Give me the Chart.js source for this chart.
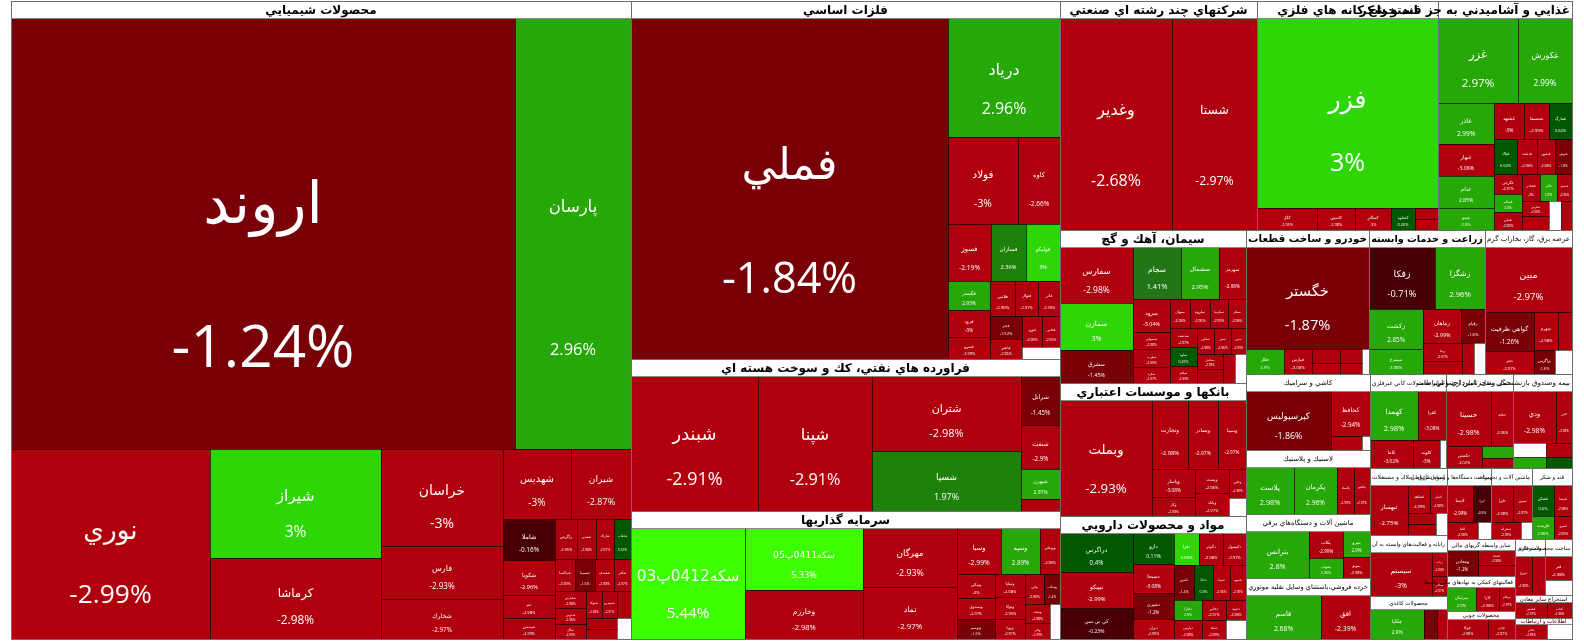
<!DOCTYPE html>
<html>
<head>
<meta charset="utf-8">
<script src="https://cdn.jsdelivr.net/npm/chart.js@4.4.1/dist/chart.umd.min.js"></script>
<style>
html, body { margin: 0; padding: 0; background: #fff; }
#wrap { width: 1584px; height: 642px; }
</style>
</head>
<body>
<div id="wrap"><canvas id="tree" width="1584" height="642"></canvas></div>
<script>
// گروه ها (صنایع) و وزن هر گروه
const sectorNames = [
    'محصولات شيميايي', 'فلزات اساسي', 'فراورده هاي نفتي، كك و سوخت هسته اي', 'سرمايه گذاريها',
    'شركتهاي چند رشته اي صنعتي', 'استخراج كانه هاي فلزي', 'غذايي و آشاميدني به جز قند و شكر',
    'سيمان، آهك و گچ', 'بانكها و موسسات اعتباري', 'مواد و محصولات دارويي', 'خودرو و ساخت قطعات',
    'زراعت و خدمات وابسته', 'عرضه برق، گاز، بخاراب گرم', 'كاشي و سراميك', 'لاستيك و پلاستيك',
    'ماشين آلات و دستگاه‌هاي برقي', 'خرده فروشي،باستثناي وسايل نقليه موتوري', 'ساير محصولات كاني غيرفلزي',
    'حمل ونقل، انبارداري و ارتباطات', 'بيمه وصندوق بازنشستگي به جزتامين اجتماعي', 'انبوه سازي، املاك و مستغلات',
    'رايانه و فعاليت‌هاي وابسته به آن', 'محصولات كاغذي', 'ساخت دستگاه‌ها و وسايل ارتباطي', 'ماشين آلات و تجهيزات',
    'قند و شكر', 'ساير واسطه گريهاي مالي', 'فعاليتهاي كمكي به نهادهاي مالي واسط', 'محصولات چوبي',
    'منسوجات', 'ساخت محصولات فلزي', 'استخراج ساير معادن', 'اطلاعات و ارتباطات'
];
const sectorValues = [
    394, 153, 65, 54.5, 44.9, 41.2, 30.7, 28.3, 24.6, 22.8, 17.6, 16.6, 12.4,
    9.35, 7.9, 7.85, 7.5, 7.07, 6.32, 5.49, 5.17, 4.71, 3.27, 3.08, 2.94, 2.8,
    2.5, 2.3, 1.9, 1.7, 1.5, 1.3, 1.2
];

// نمادها، وزن و درصد تغییر (هر سطر یک گروه)
const stockNames = [
    ['اروند','پارسان','نوري','شيراز','كرماشا','خراسان','فارس','شخارك','شهديس','شيران','شاملا','شكويا','جم','زاگرس','شپديس','شغدير','شاراك','شلعاب','شپاكسا','شسينا','شصدف','شكلر','شفارس','شدوص','شگل','شتوكا','شيميدرو','شبصير','شجم','شاوان','شفاراب'],
    ['فملي','درياد','فولاد','كاوه','فسوز','فسازان','فوليكو','فگستر','فرود','فسرو','فلامي','فنوال','فاذر','فجر','فباهنر','فنورد','فخاس','فمراد'],
    ['شبندر','شپنا','شتران','شسپا','شرانل','شنفت','شبهرن','شپاس'],
    ['سكه0412پ03','سكه0411پ05','وخارزم','مهرگان','تماد','وسبا','وسپه','وبوعلي','ونيكي','وصندوق','وساپا','وتوكا','وپويا','واتي','وسكاب','ونفت','والبر','وتوسم','وسمگ'],
    ['وغدير','شستا'],
    ['فزر','كگل','كاسپين','كمنگنز','كساوه','كدما','كروي'],
    ['غزر','غكورش','غاذر','غدام','غبهار','غپينو','غشهد','غمارگ','غشصفا','غپاك','غدشت','غبشهر','غنوش','غگرجي','غسالم','غنيلي','غشاذر','غالبر','غصينو','غفارس','غپآذر','غچين','غمهرا'],
    ['سفارس','سمازن','سشرق','سجام','سشمال','سهرمز','سرود','سصوفي','سغرب','سكرد','سبهان','ساروم','سكرما','سفار','سدشت','ساوه','سيلام','سقاين','سنير','سدور','سخاش','سبجنو','ستران','سپيدار'],
    ['وبملت','وتجارت','وبصادر','وسينا','وپاسار','وكار','وپست','وبانك','وخاور','وسالت'],
    ['دراگرس','كي بي سي','تيپيكو','دارو','دسبحا','دفرا','دشيري','ديران','دكوثر','دكپسول','دامين','ددانا','دفارا','دسينا','داسوه','دپارس','دجابر','دتماد','دعبيد','دالبر'],
    ['خگستر','خكار','خپارس','خودرو','خساپا','خمحور','خريخت','خزاميا'],
    ['زفكا','زشگزا','زكشت','سيمرغ','زماهان','زقيام','زبينا','زملارد','زگلدشت','زپارس'],
    ['مبين','گواهي ظرفيت','بختر','بجهرم','بكهنوج','بزاگرس','بمپنا'],
    ['كپرسپوليس','كحافظ','كسعدي','كسرام'],
    ['پلاست','پكرمان','پلاسك','پاكشو'],
    ['بترانس','بكاب','بشهاب','بنيرو','بموتو'],
    ['قاسم','افق'],
    ['كهمدا','كفرا','كاما','كلوند','كگاز'],
    ['حسينا','حتايد','حكشتي','حپترو','حآسا'],
    ['ودي','البرز','وبيمه','كوثر','بپاس','بيما'],
    ['ثبهساز','ثشاهد','ثامان','ثعمرا','ثنوسا','ثاصفا'],
    ['سيستم','رتاپ','مفاخر'],
    ['چكاپا','چكارن','چفيبر'],
    ['لابسا','ليرا','لكما','لخزر'],
    ['تايرا','تپمپي','تمحركه','شيپا'],
    ['قشكر','قنيشا','قلرست','قمرو'],
    ['ومعادن','اعتماد','ولصنم'],
    ['مبرسان','كارا','مرقام'],
    ['چوكا','چدن'],
    ['نبروج','نگين'],
    ['فنر','فروس'],
    ['كطبس','كباده'],
    ['اخابر','همراه']
];
const stockValues = [
    [214856,49648,37400,18404,13760,11800,6490,4800,4700,4200,2115,1786,1200,864,1053,748,700,680,660,640,600,560,520,480,450,420,400,380,350,320,300],
    [105456,12980,5916,3654,2408,1950,1900,1170,1100,900,850,800,750,700,650,600,550,450],
    [16236,14442,10605,8526,1785,1620,1107,459],
    [12397,7169,5635,5400,4815,1944,1739,900,880,800,700,650,600,550,500,450,400,720,350],
    [23421,17935],
    [34020,1320,814,800,528,242,242],
    [6880,4644,2322,1782,1836,1296,1026,810,900,800,700,650,600,550,520,500,480,450,420,400,380,350,330],
    [4030,3315,2410,2401,1960,1400,1176,650,620,600,580,560,540,520,500,480,460,440,420,400,380,360,340,320],
    [9964,2346,1938,1845,1170,765,752,738,468,300],
    [2806,2208,2562,1242,1150,782,1037,800,760,720,680,650,520,600,560,520,480,440,400,380],
    [12915,960,720,400,340,300,250,200],
    [4158,3150,2220,1369,1320,870,703,500,400,350],
    [5418,1813,1078,888,500,481,400],
    [5100,1786,442,120],
    [2240,1974,799,768],
    [2926,910,700,693,552],
    [3182,2107],
    [2304,1296,1161,729,140],
    [2484,1188,777,336,315],
    [2360,870,375,375,300,500],
    [1887,588,476,299,299,250],
    [2700,350,300],
    [1638,400,300],
    [900,600,500,200],
    [800,700,500,200],
    [800,700,600,500],
    [900,600,500],
    [900,700,500],
    [600,400],
    [500,400],
    [500,300],
    [400,300],
    [400,300]
];
const stockChanges = [
    [-1.24,2.96,-2.99,3,-2.98,-3,-2.93,-2.97,-3,-2.87,-0.16,-2.96,-2.98,-2.95,-2.99,-2.98,-2.97,0.52,-2.99,-1.5,-2.99,-2.97,-2.98,-2.96,-2.99,-2.98,-2.97,-2.99,-2.98,-2.96,0],
    [-1.84,2.96,-3,-2.66,-2.19,2.36,3,2.93,-3,-2.99,-2.98,-2.97,-2.99,-1.52,-2.96,-2.98,-2.95,0],
    [-2.91,-2.91,-2.98,1.97,-1.45,-2.9,2.97,-2.99],
    [5.44,5.33,-2.98,-2.93,-2.97,-2.99,2.89,-2.98,-3,-2.97,-2.98,-2.99,-2.97,-2.96,-1.4,-2.98,-2.99,-1.5,0],
    [-2.68,-2.97],
    [3,-2.95,-2.98,-3,0.26,-3,-2.9],
    [2.97,2.99,2.99,2.85,-3.08,2.9,-3,0.62,-2.99,0.52,-2.98,-2.98,-1.8,-2.97,2.9,-2.99,-3,2.9,-2.96,-2.98,-2.99,0,-2.97],
    [-2.98,3,-1.45,1.41,2.95,-2.98,-3.04,-2.98,-2.99,-2.97,-2.98,-2.96,-2.99,-2.98,-2.97,0.45,-2.99,-2.98,-2.96,-2.99,-2.98,-2.97,-2.99,0],
    [-2.93,-2.98,-2.97,-2.97,-3.08,-2.99,-2.96,-2.97,-2.98,0],
    [0.4,-0.23,-2.99,0.11,-3.08,3.08,-1.2,-2.99,-2.98,-2.97,-1.4,0.3,2.9,-2.96,-2.99,-2.98,-2.97,-2.99,-2.98,0],
    [-1.87,2.9,-3.08,-2.97,-2.98,-2.96,-2.99,0],
    [-0.71,2.96,2.85,2.98,-2.99,-1.6,-2.97,-2.98,-2.96,0],
    [-2.97,-1.26,-2.97,-2.98,-2.99,-1.6,0],
    [-1.86,-2.94,-2.98,0],
    [2.98,2.96,-2.99,-2.97],
    [2.8,-2.99,2.96,2.9,-2.98],
    [2.68,-2.39],
    [2.98,-3.08,-3.02,-3,0],
    [-2.98,-2.96,-3.02,2.9,-2.98],
    [-2.98,-2.98,2.9,-2.97,0.4,0],
    [-2.75,-2.99,-2.98,-2.97,-2.96,0],
    [-3,-2.98,-2.97],
    [2.9,-1.5,-2.9],
    [-2.99,-0.5,-2.98,0],
    [-2.98,-2.97,-2.99,0],
    [0.6,-2.98,2.96,-2.99],
    [-1.2,-2.98,-2.97],
    [2.9,-2.98,-2.97],
    [-2.98,-2.97],
    [-2.98,-2.99],
    [-2.98,0],
    [-2.97,-2.98],
    [-2.98,0]
];

// محدوده نقشه روی محورها
const frame = { x0: 11, y0: 1, x1: 1572, y1: 639 };
const phi = (1 + Math.sqrt(5)) / 2;

function tileColor(c) {
    if (!c) return '#ffffff';
    if (c >= 5) return 'rgb(62,255,0)';
    if (c >= 3) return 'rgb(46,214,6)';
    if (c >= 2.5) return 'rgb(38,168,8)';
    if (c >= 1.5) return 'rgb(30,130,10)';
    if (c >= 1) return 'rgb(34,118,24)';
    if (c > 0) return 'rgb(0,88,0)';
    if (c <= -2) return 'rgb(176,0,14)';
    if (c <= -1) return 'rgb(122,0,8)';
    return 'rgb(72,0,6)';
}

// squarified treemap (same rule as d3 with golden ratio)
function squarify(nodes, x0, y0, x1, y1) {
    let value = nodes.reduce((s, n) => s + n.value, 0);
    let i0 = 0, i1 = 0;
    const n = nodes.length;
    while (i0 < n) {
        const dx = x1 - x0, dy = y1 - y0;
        let sumValue = nodes[i1++].value;
        let minValue = sumValue, maxValue = sumValue;
        const alpha = Math.max(dy / dx, dx / dy) / (value * phi);
        let beta = sumValue * sumValue * alpha;
        let minRatio = Math.max(maxValue / beta, beta / minValue);
        for (; i1 < n; ++i1) {
            const nv = nodes[i1].value;
            sumValue += nv;
            if (nv < minValue) minValue = nv;
            if (nv > maxValue) maxValue = nv;
            beta = sumValue * sumValue * alpha;
            const newRatio = Math.max(maxValue / beta, beta / minValue);
            if (newRatio > minRatio) { sumValue -= nv; break; }
            minRatio = newRatio;
        }
        const row = nodes.slice(i0, i1);
        if (dx < dy) {
            const yb = i1 >= n ? y1 : y0 + dy * sumValue / value;
            let x = x0;
            row.forEach(nd => {
                const w = dx * nd.value / sumValue;
                nd.x0 = x; nd.x1 = x + w; nd.y0 = y0; nd.y1 = yb;
                x += w;
            });
            y0 = yb;
        } else {
            const xb = i1 >= n ? x1 : x0 + dx * sumValue / value;
            let y = y0;
            row.forEach(nd => {
                const h = dy * nd.value / sumValue;
                nd.y0 = y; nd.y1 = y + h; nd.x0 = x0; nd.x1 = xb;
                y += h;
            });
            x0 = xb;
        }
        value -= sumValue;
        i0 = i1;
    }
}

function buildLayout() {
    const sectors = sectorNames.map((name, i) => ({ name: name, value: sectorValues[i], index: i }))
        .sort((a, b) => b.value - a.value);
    squarify(sectors, frame.x0, frame.y0, frame.x1, frame.y1);
    sectors.forEach(s => {
        s.head = Math.min(17, (s.y1 - s.y0) * 0.3);
        s.children = stockNames[s.index].map((name, j) => ({
            name: name,
            value: stockValues[s.index][j],
            change: stockChanges[s.index][j]
        })).sort((a, b) => b.value - a.value);
        squarify(s.children, s.x0, s.y0 + s.head, s.x1, s.y1);
    });
    return sectors;
}

const LABEL_FONT = '"DejaVu Sans", sans-serif';
const PCT_FONT = '"Open Sans", "DejaVu Sans", sans-serif';

function drawLabel(ctx, t, x, y, w, h) {
    if (!t.change || w < 10 || h < 9) return;
    const pct = t.change + '%';
    let f = Math.min(w, h) / 7.5 + 1;
    ctx.font = f + 'px ' + LABEL_FONT;
    const nw = ctx.measureText(t.name).width;
    ctx.font = f + 'px ' + PCT_FONT;
    const pw = ctx.measureText(pct).width;
    const mw = Math.max(nw, pw);
    if (mw > w * 0.9) f = f * w * 0.9 / mw;
    if (f < 3) return;
    ctx.save();
    ctx.beginPath();
    ctx.rect(x, y, w, h);
    ctx.clip();
    ctx.fillStyle = '#ffffff';
    ctx.textAlign = 'center';
    ctx.textBaseline = 'middle';
    ctx.direction = 'rtl';
    ctx.font = f + 'px ' + LABEL_FONT;
    ctx.fillText(t.name, x + w / 2, y + h * 0.44);
    ctx.direction = 'ltr';
    ctx.font = f + 'px ' + PCT_FONT;
    ctx.fillText(pct, x + w / 2, y + h * 0.77);
    ctx.restore();
}

const treemapPlugin = {
    id: 'treemapTiles',
    afterDatasetsDraw(chart) {
        const ctx = chart.ctx;
        const sx = chart.scales.x, sy = chart.scales.y;
        const px = v => Math.round(sx.getPixelForValue(v));
        const py = v => Math.round(sy.getPixelForValue(v));
        const sectors = buildLayout();

        ctx.save();
        sectors.forEach(sec => {
            sec.children.forEach(t => {
                const x0 = px(t.x0), x1 = px(t.x1), y0 = py(t.y0), y1 = py(t.y1);
                ctx.fillStyle = tileColor(t.change);
                ctx.fillRect(x0, y0, x1 - x0, y1 - y0);
            });
        });
        ctx.lineWidth = 1;
        sectors.forEach(sec => {
            sec.children.forEach(t => {
                const x0 = px(t.x0), x1 = px(t.x1), y0 = py(t.y0), y1 = py(t.y1);
                ctx.strokeStyle = t.change ? 'rgba(20,0,0,0.45)' : 'rgba(90,90,90,0.6)';
                ctx.strokeRect(x0 + 0.5, y0 + 0.5, x1 - x0, y1 - y0);
            });
        });
        sectors.forEach(sec => {
            sec.children.forEach(t => {
                const x0 = px(t.x0), x1 = px(t.x1), y0 = py(t.y0), y1 = py(t.y1);
                drawLabel(ctx, t, x0, y0, x1 - x0, y1 - y0);
            });
        });
        // سربرگ گروه ها: اول کادرها، بعد نوشته ها (نوشته ها می توانند از کادر بیرون بزنند)
        sectors.forEach(sec => {
            const x0 = px(sec.x0), x1 = px(sec.x1), y0 = py(sec.y0), y1 = py(sec.y1);
            const hh = py(sec.y0 + sec.head) - y0;
            const w = x1 - x0;
            ctx.fillStyle = '#ffffff';
            ctx.fillRect(x0, y0, w, hh);
            ctx.strokeStyle = '#8a8a8a';
            ctx.strokeRect(x0 + 0.5, y0 + 0.5, w, hh);
            ctx.strokeStyle = '#6e6e6e';
            ctx.strokeRect(x0 + 0.5, y0 + 0.5, w, y1 - y0);
        });
        ctx.save();
        ctx.beginPath();
        ctx.rect(px(frame.x0), py(frame.y0), px(frame.x1) - px(frame.x0), py(frame.y1) - py(frame.y0));
        ctx.clip();
        sectors.forEach(sec => {
            const x0 = px(sec.x0), x1 = px(sec.x1), y0 = py(sec.y0), y1 = py(sec.y1);
            const hh = py(sec.y0 + sec.head) - y0;
            const w = x1 - x0;
            const area = w * (y1 - y0);
            const big = area > 14000;
            let fs = big ? 12 : (area > 5000 ? 7 : 5.5);
            const weight = big ? 'bold ' : '';
            ctx.font = weight + fs + 'px ' + LABEL_FONT;
            let tw = ctx.measureText(sec.name).width;
            // کمی بلندتر: کوچک کردن قلم؛ خیلی بلندتر: چیدن از سمت راست
            if (tw > w - 4 && tw * 0.8 <= w - 4) {
                fs = fs * (w - 4) / tw;
                ctx.font = weight + fs + 'px ' + LABEL_FONT;
                tw = ctx.measureText(sec.name).width;
            }
            const cx = tw > w ? x1 - tw / 2 - 2 : x0 + w / 2;
            ctx.fillStyle = '#000';
            ctx.textAlign = 'center';
            ctx.textBaseline = 'middle';
            ctx.direction = 'rtl';
            ctx.fillText(sec.name, cx, y0 + hh / 2 + 1);
        });
        ctx.restore();
        ctx.restore();
    }
};

new Chart(document.getElementById('tree'), {
    type: 'scatter',
    data: { datasets: [{ data: [], pointRadius: 0 }] },
    options: {
        responsive: false,
        animation: false,
        devicePixelRatio: 1,
        layout: { padding: 0 },
        scales: {
            x: { type: 'linear', min: 0, max: 1584, display: false },
            y: { type: 'linear', min: 0, max: 642, reverse: true, display: false }
        },
        plugins: {
            legend: { display: false },
            tooltip: { enabled: false }
        }
    },
    plugins: [treemapPlugin]
});
</script>
</body>
</html>
